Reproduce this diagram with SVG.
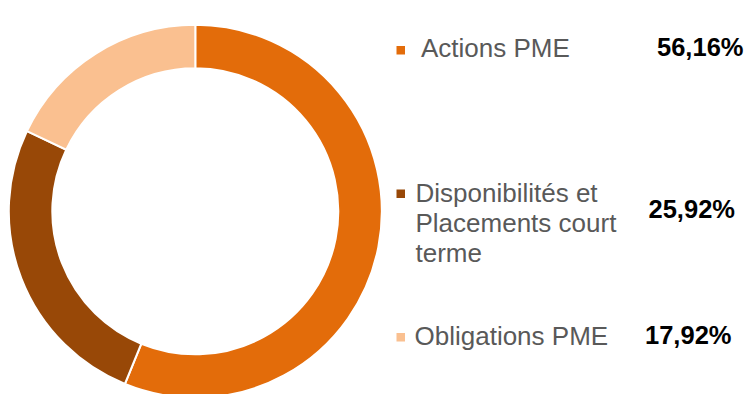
<svg xmlns="http://www.w3.org/2000/svg" width="750" height="394" viewBox="0 0 750 394">
  <style>
    .seg { stroke: #ffffff; stroke-width: 2; stroke-linejoin: miter; }
    .lbl { font-family: "Liberation Sans", Arial, sans-serif; font-size: 26px; fill: #595959; }
    .pct { font-family: "Liberation Sans", Arial, sans-serif; font-size: 25.5px; font-weight: bold; fill: #000000; }
  </style>
  <rect width="750" height="394" fill="#ffffff"/>
  <g id="donut">
    <path id="seg-actions" class="seg" fill="#E36C0A" d="M195.3,24.8 A186.5,186.5 0 1 1 124.91,384.0 L141.32,343.72 A143,143 0 1 0 195.3,68.3 Z"/>
    <path id="seg-dispo" class="seg" fill="#984807" d="M124.91,384.0 A186.5,186.5 0 0 1 26.95,131.05 L66.22,149.77 A143,143 0 0 0 141.32,343.72 Z"/>
    <path id="seg-oblig" class="seg" fill="#FAC090" d="M26.95,131.05 A186.5,186.5 0 0 1 195.3,24.8 L195.3,68.3 A143,143 0 0 0 66.22,149.77 Z"/>
  </g>
  <g id="legend-actions">
    <rect x="396.5" y="46" width="8.5" height="8.5" fill="#E36C0A"/>
    <text class="lbl" x="421" y="57">Actions PME</text>
    <text class="pct" x="657" y="55.5">56,16%</text>
  </g>
  <g id="legend-dispo">
    <rect x="396.5" y="189.5" width="8.5" height="8.5" fill="#984807"/>
    <text class="lbl" x="415.5" y="202">Disponibilités et</text>
    <text class="lbl" x="415.5" y="232">Placements court</text>
    <text class="lbl" x="415.5" y="262">terme</text>
    <text class="pct" x="648.5" y="218">25,92%</text>
  </g>
  <g id="legend-oblig">
    <rect x="396.5" y="333" width="8.5" height="8.5" fill="#FAC090"/>
    <text class="lbl" x="414.5" y="344.5">Obligations PME</text>
    <text class="pct" x="645" y="343.5">17,92%</text>
  </g>
</svg>
